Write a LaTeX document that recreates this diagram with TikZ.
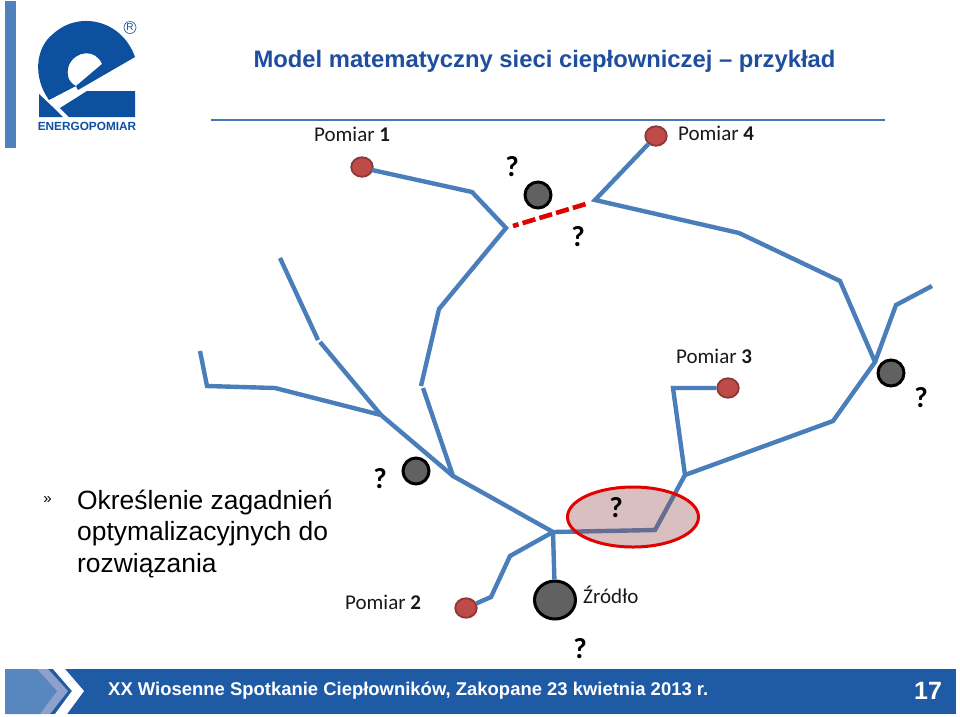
\documentclass[tikz,border=0pt]{standalone}
\usepackage{fontspec}
\usetikzlibrary{shapes.geometric}
\setmainfont{Liberation Sans}
\newfontfamily\calfont{Carlito}
\definecolor{pipe}{HTML}{4A7EBB}
\definecolor{foot}{HTML}{1F5AA5}
\definecolor{logo}{HTML}{0E50A0}
\definecolor{ttl}{HTML}{1F4E9E}
\definecolor{bar}{HTML}{4F81BD}
\definecolor{lav}{HTML}{8FA0CC}
\definecolor{redn}{HTML}{BE4B48}
\definecolor{redb}{HTML}{8C3836}
\definecolor{tint}{HTML}{965050}
\tikzset{
 pipeline/.style={draw=pipe,line width=4.4pt,line join=miter,line cap=butt},
 meter/.style={ellipse,draw=redb,fill=redn,line width=1.8pt,minimum width=21.5pt,minimum height=19.5pt,inner sep=0pt},
 valve/.style={circle,draw=black,fill=black!62,line width=3pt,minimum size=26pt,inner sep=0pt},
 lab/.style={font=\calfont\fontsize{21}{23}\selectfont,text=black!90,inner sep=0pt},
 qm/.style={font=\calfont\bfseries\fontsize{29}{29}\selectfont,inner sep=0pt},
 body/.style={font=\fontsize{26.4}{31.5}\selectfont,text=black,align=left,anchor=north west,inner sep=0pt},
}
\begin{document}
\begin{tikzpicture}[x=1pt,y=-1pt]
\useasboundingbox (0,0) rectangle (960,716);
\fill[white] (0,0) rectangle (960,716);
% side bar and rule
\fill[bar] (5,1) rectangle (16,148);
\draw[draw=bar!80!ttl,line width=1.6pt] (211,120) -- (885,120);
% logo
\fill[logo] (49,100) .. controls (33,78) and (35,48) .. (53,34) .. controls (79,10) and (122,20) .. (135,57)
  -- (78,90) -- (76,86) -- (102,64) .. controls (96,49) and (76,50) .. (69,65) .. controls (66,74) and (68,82) .. (76,86) -- cycle;
\fill[logo] (135,91) -- (87,91) -- (60,108) -- (69,117) -- (135,117) -- cycle;
\fill[logo] (39,94) -- (56,110) -- (63,117) -- (39,117) -- cycle;
\draw[logo,line width=.6pt] (130,27.5) circle (6);
\node[font=\fontsize{10}{10}\selectfont,text=logo,inner sep=0pt] (reg) at (130,27.5) {R};
\node[font=\bfseries\fontsize{11.8}{12}\selectfont,text=logo,inner sep=0pt] (brand) at (87,126) {ENERGOPOMIAR};
% title
\node[font=\bfseries\fontsize{23.8}{26}\selectfont,text=ttl,inner sep=0pt] (title) at (544.5,61.5) {Model matematyczny sieci ciepłowniczej – przykład};
% junctions
\coordinate (j1) at (506,228);
\coordinate (j2) at (595,200);
\coordinate (j3) at (875,362);
\coordinate (j4) at (685,475);
\coordinate (j5) at (655,530);
\coordinate (j6) at (553,532);
\coordinate (j7) at (453,476);
\coordinate (j8) at (381,415);
% nodes
\node[meter] (p1) at (362,167) {};
\node[meter] (p4) at (656,136) {};
\node[meter] (p3) at (728,388) {};
\node[meter] (p2) at (466,608) {};
\node[valve] (v1) at (538,195) {};
\node[valve] (v2) at (891,373) {};
\node[valve] (v3) at (416,471) {};
\node[ellipse,draw=black,fill=black!62,line width=3pt,minimum width=41pt,minimum height=38pt,inner sep=0pt] (src) at (555,600) {};
% pipes
\draw[pipeline] (p1) -- (372,170) -- (472,192) -- (j1) -- (439,309) -- (421,386);
\draw[pipeline] (p4) -- (j2) -- (739,233) -- (840,281) -- (j3) -- (833,421) -- (j4);
\draw[pipeline] (j3) -- (896,305) -- (932,286);
\draw[pipeline] (p3) -- (673,388) -- (j4) -- (j5) -- (j6) -- (j7) -- (423,388);
\draw[pipeline] (j7) -- (j8) -- (320,342);
\draw[pipeline] (318,340) -- (280,258);
\draw[pipeline] (j8) -- (275,388) -- (207,386) -- (200,351);
\draw[pipeline] (j6) -- (510,556) -- (491,597) -- (p2);
\draw[pipeline] (j6) -- (src);
% dashed link
\coordinate (da) at (513,226);
\coordinate (db) at (585.5,204.1);
\draw[red!90!black,line width=4.6pt,dash pattern=on 13.3pt off 4.2pt,dash phase=7.5pt] (da) -- (db);
% ellipse
\node[ellipse,draw=red!90!black,line width=3pt,fill=tint,fill opacity=.36,draw opacity=1,minimum width=131pt,minimum height=60pt,inner sep=0pt] (focus) at (633,517) {};
% labels
\node[lab,anchor=west] (l1) at (314,134) {Pomiar \textbf{1}};
\node[lab,anchor=west] (l4) at (678,133) {Pomiar \textbf{4}};
\node[lab,anchor=west] (l3) at (676,356) {Pomiar \textbf{3}};
\node[lab,anchor=west] (l2) at (345,602) {Pomiar \textbf{2}};
\node[lab,anchor=west] (l5) at (583,595) {Źródło};
\node[qm] (q1) at (512,166.5) {?};
\node[qm] (q2) at (578,236.5) {?};
\node[qm] (q3) at (921,397.5) {?};
\node[qm] (q4) at (380,478.5) {?};
\node[qm] (q5) at (616,507.5) {?};
\node[qm] (q6) at (580,648.5) {?};
\node[font=\fontsize{15}{15}\selectfont,text=black,inner sep=0pt] (t0) at (47.5,500) {»};
\node[body] (t1) at (77,489.5) {Określenie zagadnień\\optymalizacyjnych do\\rozwiązania};
% footer
\fill[foot] (5,669) rectangle (956,714);
\fill[bar!95!white] (5,669) -- (37,669) -- (57,691) -- (40,714) -- (5,714) -- cycle;
\fill[lav] (37,669) -- (48,669) -- (68,691) -- (50,714) -- (40,714) -- (57,691) -- cycle;
\fill[white] (53,669) -- (65,669) -- (84,691) -- (67,714) -- (55,714) -- (72,691) -- cycle;
\node[font=\bfseries\fontsize{18.45}{20}\selectfont,text=white,anchor=west,inner sep=0pt] (f1) at (108,691) {XX Wiosenne Spotkanie Ciepłowników, Zakopane 23 kwietnia 2013 r.};
\node[font=\bfseries\fontsize{25}{26}\selectfont,text=white,inner sep=0pt] (f2) at (928,691) {17};
\end{tikzpicture}
\end{document}
